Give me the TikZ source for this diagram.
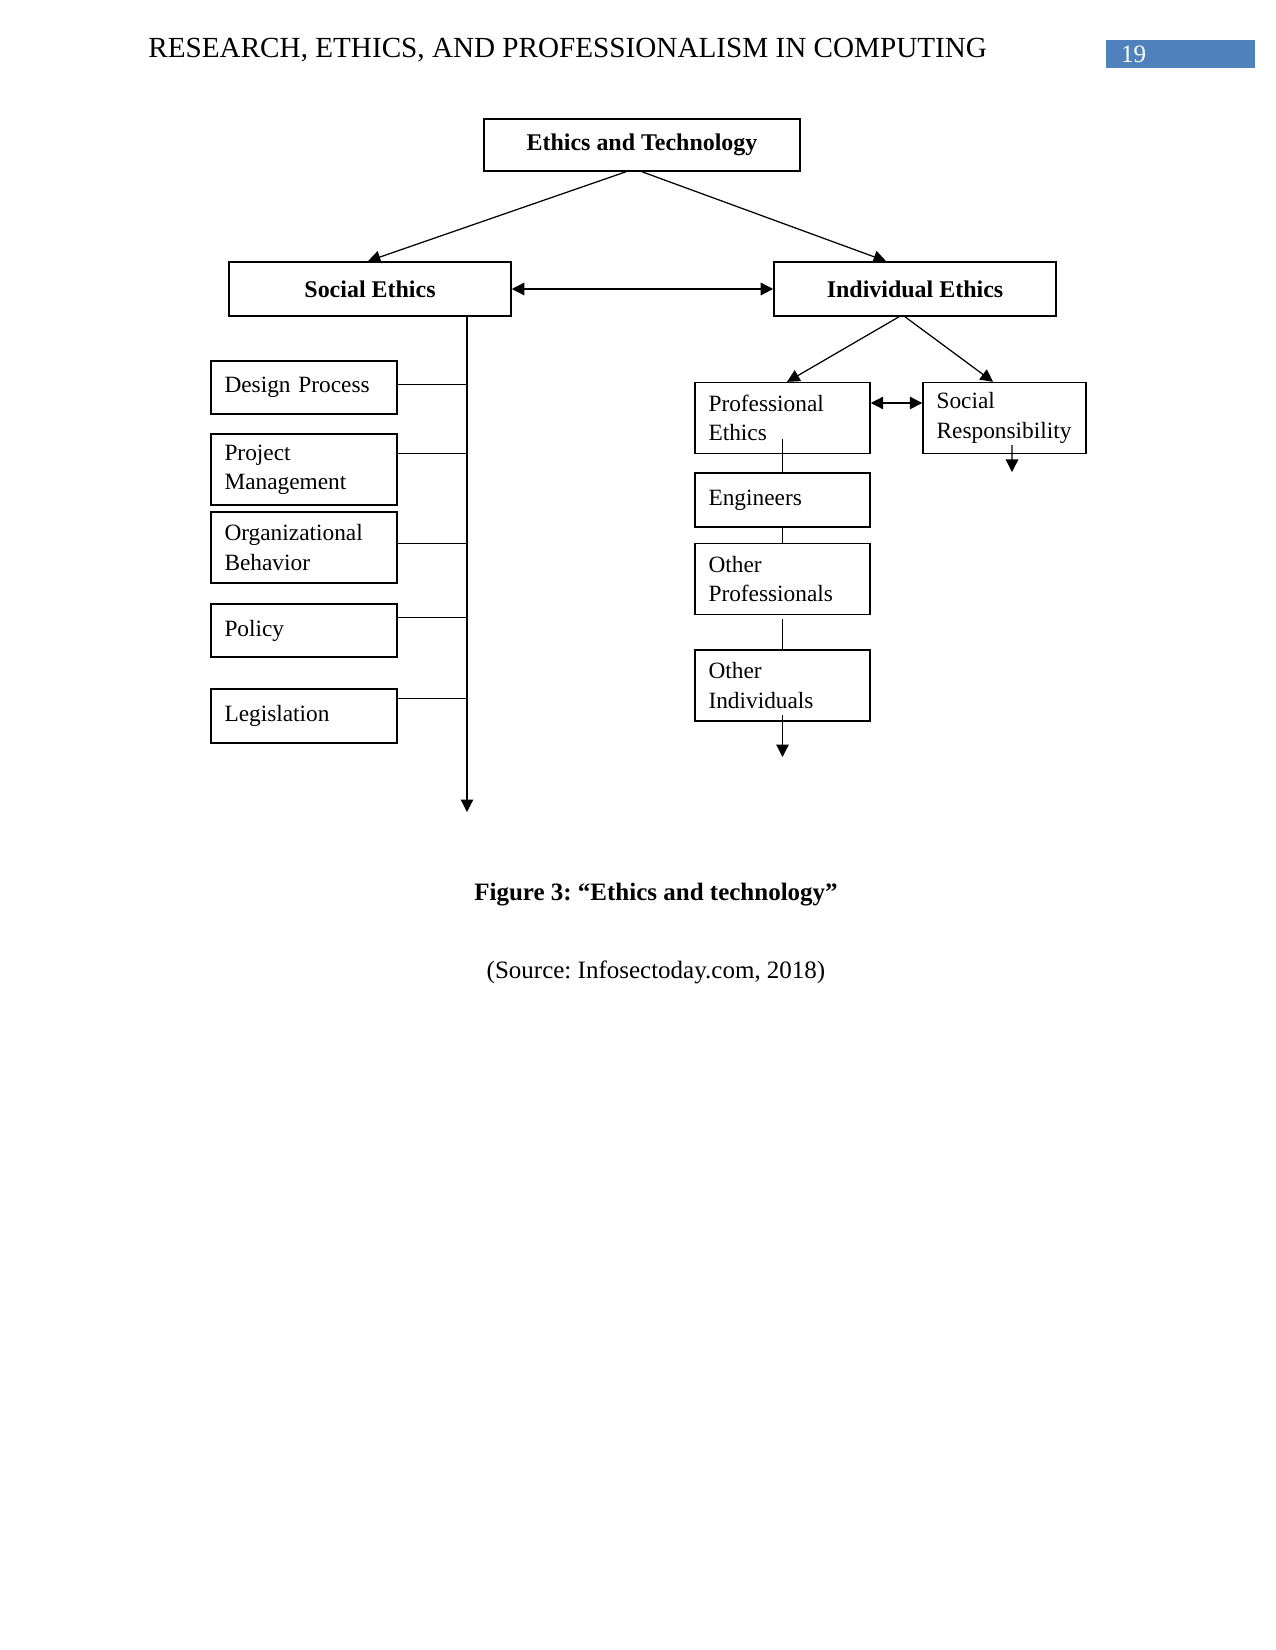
\documentclass[tikz,border=0pt]{standalone}
\usepackage{fontspec}
\setmainfont{Liberation Serif}
\usetikzlibrary{arrows.meta}
\definecolor{pagenumblue}{RGB}{79,129,189}
\frenchspacing

\begin{document}
\begin{tikzpicture}[x=0.48pt, y=-0.48pt,
    headbox/.style={draw, line width=0.7pt, inner sep=0pt, font=\fontsize{11.5}{14}\selectfont\bfseries},
    itembox/.style={draw, line width=0.7pt, inner xsep=6.5pt, inner ysep=0pt, align=left, text width=#1, font=\fontsize{11.2}{14}\selectfont},
    link/.style={line width=0.6pt},
    arr/.style={link, -{Triangle[length=6pt, width=6pt]}},
    dblarr/.style={link, {Triangle[length=6pt, width=6pt]}-{Triangle[length=6pt, width=6pt]}}
]
    % Page
    \useasboundingbox (0,0) rectangle (1275,1650);

    % Running head and page number
    \node[anchor=base west, inner sep=0pt, font=\fontsize{14}{16}\selectfont] (runhead) at (148,58) {RESEARCH, ETHICS, AND PROFESSIONALISM IN COMPUTING};
    \node[fill=pagenumblue, text=white, minimum width=71.5pt, minimum height=13.4pt, inner xsep=7.2pt, inner ysep=0pt, text width=57.1pt, align=left, font=\fontsize{12}{14}\selectfont] (pagenum) at (1180.5,54) {19};

    % Top level
    \node[headbox, minimum width=151.7pt, minimum height=25pt] (tech) at (642,145) {Ethics and Technology};
    \node[headbox, minimum width=135.4pt, minimum height=26pt] (social) at (370,289) {Social Ethics};
    \node[headbox, minimum width=135.4pt, minimum height=26pt] (indiv) at (915,289) {Individual Ethics};

    \draw[arr] ([xshift=-7.7pt]tech.south) -- ([xshift=-1pt]social.north);
    \draw[arr] (tech.south) -- ([xshift=-13.9pt]indiv.north);
    \draw[dblarr] (social.east) -- (indiv.west);

    % Social ethics branch
    \node[itembox=76.3pt, minimum height=25.4pt] (design) at (304,387.5) {Design Process};
    \node[itembox=76.3pt, minimum height=34pt] (project) at (304,469.5) {Project\\Management};
    \node[itembox=76.3pt, minimum height=34pt] (org) at (304,547.5) {Organizational\\Behavior};
    \node[itembox=76.3pt, minimum height=25.4pt] (policy) at (304,630.5) {Policy};
    \node[itembox=76.3pt, minimum height=25.8pt] (legis) at (304,716) {Legislation};

    \coordinate (sdown) at (467,812);
    \draw[arr] (social.south -| sdown) -- (sdown);
    \foreach \n/\dy in {design/24, project/20, org/32, policy/14, legis/10}
        \draw[link] (\n.north east) ++(0,\dy) coordinate (tap) -- (tap -| sdown);

    % Individual ethics branch
    \node[itembox=71pt, minimum height=34pt] (prof) at (782.5,418) {Professional\\Ethics};
    \node[itembox=65.2pt, minimum height=34pt] (socresp) at (1004.5,418) {Social\\Responsibility};
    \node[itembox=71pt, minimum height=26pt] (eng) at (782.5,500) {Engineers};
    \node[itembox=71pt, minimum height=34pt] (othp) at (782.5,579) {Other\\Professionals};
    \node[itembox=71pt, minimum height=34pt] (othi) at (782.5,685.5) {Other\\Individuals};

    \draw[arr] ([xshift=-7.7pt]indiv.south) -- ([xshift=2.2pt]prof.north);
    \draw[arr] ([xshift=-4.8pt]indiv.south) -- ([xshift=-5.5pt]socresp.north);
    \draw[dblarr] ([yshift=7.2pt]prof.east) -- ([yshift=7.2pt]socresp.west);

    \draw[link] ([yshift=7.2pt]prof.south) -- (eng.north);
    \draw[link] (eng.south) -- (othp.north);
    \draw[link] ([yshift=-2pt]othp.south) -- ([yshift=-1pt]othi.north);
    \coordinate (idown) at (782.5,757);
    \draw[arr] ([yshift=3pt]othi.south) -- (idown);
    \coordinate (srdown) at (1012,472);
    \draw[arr] ([xshift=3.6pt, yshift=4.3pt]socresp.south) -- (srdown);

    % Caption
    \node[anchor=base, inner sep=0pt, font=\fontsize{12}{14}\selectfont\bfseries] (caption) at (656,900) {Figure 3: “Ethics and technology”};
    \node[anchor=base, inner sep=0pt, font=\fontsize{12}{14}\selectfont] (source) at (656,978) {(Source: Infosectoday.com, 2018)};
\end{tikzpicture}
\end{document}
